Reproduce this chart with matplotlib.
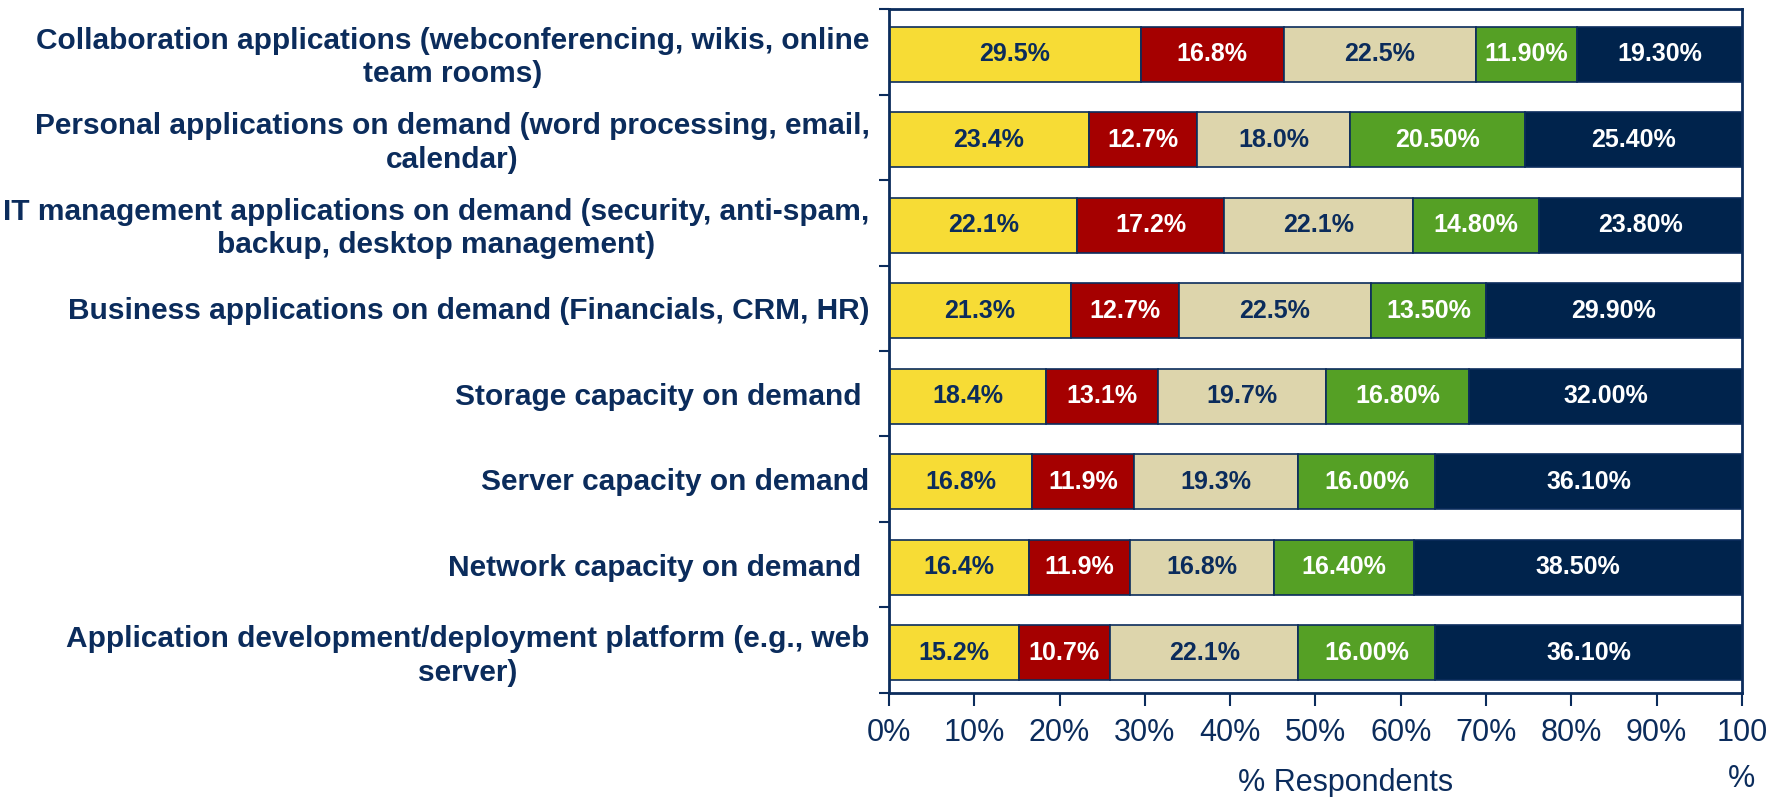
import matplotlib.pyplot as plt
import numpy as np

# categories, top to bottom
categories = [
    'Collaboration applications (webconferencing, wikis, online\nteam rooms)',
    'Personal applications on demand (word processing, email,\ncalendar)',
    'IT management applications on demand (security, anti-spam,\nbackup, desktop management)',
    'Business applications on demand (Financials, CRM, HR)',
    'Storage capacity on demand ',
    'Server capacity on demand',
    'Network capacity on demand ',
    'Application development/deployment platform (e.g., web\nserver)',
]

s1 = [29.5, 23.4, 22.1, 21.3, 18.4, 16.8, 16.4, 15.2]
s2 = [16.8, 12.7, 17.2, 12.7, 13.1, 11.9, 11.9, 10.7]
s3 = [22.5, 18.0, 22.1, 22.5, 19.7, 19.3, 16.8, 22.1]
s4 = [11.9, 20.5, 14.8, 13.5, 16.8, 16.0, 16.4, 16.0]
s5 = [19.3, 25.4, 23.8, 29.9, 32.0, 36.1, 38.5, 36.1]

xticks = [0, 10, 20, 30, 40, 50, 60, 70, 80, 90, 100]
xticklabels = ['0%', '10%', '20%', '30%', '40%', '50%', '60%', '70%', '80%', '90%', '100\n%']

navy = '#0B2C5C'
colors = ['#F7DC35', '#A50000', '#DDD5AC', '#55A025', '#00234C']
txtcol = [navy, 'white', navy, 'white', 'white']
fmts = ['{:.1f}%', '{:.1f}%', '{:.1f}%', '{:.2f}%', '{:.2f}%']

plt.rcParams['font.family'] = ['Liberation Sans', 'DejaVu Sans']

fig = plt.figure(figsize=(17.73, 7.97), dpi=100)
ax = fig.add_axes([0.5014, 0.1305, 0.9825 - 0.5014, 0.9887 - 0.1305])

y = np.arange(len(categories)) + 0.03
left = np.zeros(len(categories))
for vals, c, tc, f in zip([s1, s2, s3, s4, s5], colors, txtcol, fmts):
    vals = np.array(vals)
    ax.barh(y, vals, left=left, height=0.64, color=c, edgecolor=navy, linewidth=1.2, zorder=2)
    for yi, l, v in zip(y, left, vals):
        ax.text(l + v / 2, yi, f.format(v), ha='center', va='center',
                color=tc, fontsize=18, fontweight='bold', zorder=3)
    left = left + vals

ax.set_xlim(0, 100)
ax.set_ylim(len(categories) - 0.5, -0.5)

ax.set_yticks(np.arange(len(categories)))
ax.set_yticklabels(categories, fontsize=21.5, fontweight='bold', color=navy,
                   multialignment='center', linespacing=1.25)
ax.tick_params(axis='y', which='major', length=0, pad=14)
ax.set_yticks(np.arange(len(categories) + 1) - 0.5, minor=True)
ax.tick_params(axis='y', which='minor', length=7, width=1.5, color=navy)

ax.set_xticks(xticks)
ax.set_xticklabels(xticklabels, fontsize=22, color=navy, linespacing=1.7, va='top')
ax.tick_params(axis='x', length=9, width=1.5, color=navy, pad=9)
ax.set_xlabel('% Respondents', fontsize=22, color=navy)
ax.xaxis.set_label_coords(0.535, -0.11)

for sp in ax.spines.values():
    sp.set_color(navy)
    sp.set_linewidth(2)

plt.savefig('out.png', dpi=100)
